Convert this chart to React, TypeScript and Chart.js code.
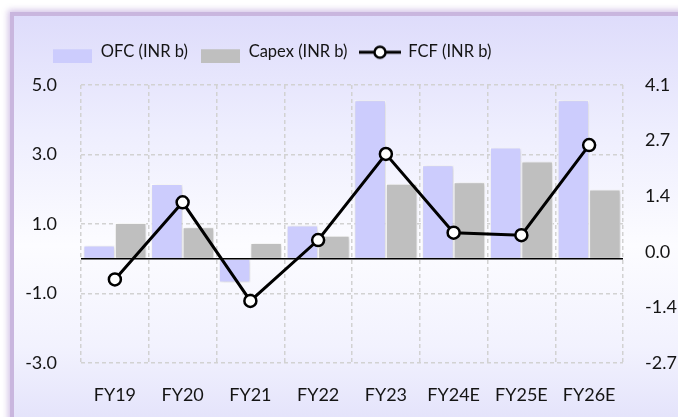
import React, { useEffect, useRef } from "react";
import { Chart, registerables } from "chart.js";

Chart.register(...registerables);

const categories = ["FY19", "FY20", "FY21", "FY22", "FY23", "FY24E", "FY25E", "FY26E"];
const ofcValues = [0.38, 2.15, -0.68, 0.96, 4.56, 2.69, 3.2, 4.56];
const capexValues = [1.03, 0.91, 0.45, 0.66, 2.16, 2.2, 2.8, 1.99];
const fcfValues = [-0.68, 1.22, -1.21, 0.29, 2.41, 0.47, 0.41, 2.63];
const leftTicks = [-3, -1, 1, 3, 5];
const rightTicks = [-2.74, -1.37, 0, 1.37, 2.74, 4.11];
const seriesNames = ["OFC (INR b)", "Capex (INR b)", "FCF (INR b)"];

const OFC_COLOR = "#ccccfd";
const CAPEX_COLOR = "#bfbfbf";
const FONT = "Lato, 'Liberation Sans', sans-serif";
const TEXT_COLOR = "#141414";

const CW = 812;
const CH = 417;
const CLEFT = -134;

function boxImage(color: string) {
  const c = document.createElement("canvas");
  c.width = 39;
  c.height = 24;
  const ctx = c.getContext("2d")!;
  ctx.fillStyle = color;
  ctx.fillRect(0, 10, 39, 14);
  return c;
}

function lineImage() {
  const c = document.createElement("canvas");
  c.width = 42;
  c.height = 20;
  const ctx = c.getContext("2d")!;
  ctx.strokeStyle = "#000";
  ctx.lineWidth = 3;
  ctx.beginPath();
  ctx.moveTo(0, 11);
  ctx.lineTo(42, 11);
  ctx.stroke();
  ctx.beginPath();
  ctx.arc(21, 11, 5.5, 0, Math.PI * 2);
  ctx.fillStyle = "#fff";
  ctx.fill();
  ctx.lineWidth = 2.5;
  ctx.stroke();
  return c;
}

const customPlugin = {
  id: "custom",
  beforeDatasetDraw(chart: any, args: any) {
    const ctx = chart.ctx;
    if (args.index === 0 || args.index === 1) {
      ctx.save();
      ctx.shadowColor = "rgba(0,0,0,0.18)";
      ctx.shadowBlur = 4;
      ctx.shadowOffsetX = 1;
      ctx.shadowOffsetY = 1;
    }
    if (args.index === 2) {
      const y = chart.scales.y.getPixelForValue(0);
      const { left, right } = chart.chartArea;
      ctx.save();
      ctx.strokeStyle = "#000";
      ctx.lineWidth = 1.6;
      ctx.beginPath();
      ctx.moveTo(left, y);
      ctx.lineTo(right, y);
      ctx.stroke();
      ctx.restore();
    }
  },
  afterDatasetDraw(chart: any, args: any) {
    if (args.index === 0 || args.index === 1) {
      chart.ctx.restore();
    }
  },
};

export default function App() {
  const ref = useRef<HTMLCanvasElement | null>(null);

  useEffect(() => {
    if (!ref.current) return;
    const images = [boxImage(OFC_COLOR), boxImage(CAPEX_COLOR), lineImage()];
    const chart = new Chart(ref.current, {
      type: "bar",
      data: {
        labels: categories,
        datasets: [
          {
            type: "bar",
            label: seriesNames[0],
            data: ofcValues,
            backgroundColor: OFC_COLOR,
            borderColor: "#ffffff",
            borderWidth: 1,
            borderSkipped: false,
            yAxisID: "y",
            categoryPercentage: 0.93,
            barPercentage: 1.0,
            order: 1,
          },
          {
            type: "bar",
            label: seriesNames[1],
            data: capexValues,
            backgroundColor: CAPEX_COLOR,
            borderColor: "#ffffff",
            borderWidth: 1,
            borderSkipped: false,
            yAxisID: "y",
            categoryPercentage: 0.93,
            barPercentage: 1.0,
            order: 1,
          },
          {
            type: "line",
            label: seriesNames[2],
            data: fcfValues,
            borderColor: "#000000",
            borderWidth: 3,
            pointRadius: 6,
            pointBorderWidth: 2.5,
            pointBackgroundColor: "#ffffff",
            pointBorderColor: "#000000",
            tension: 0,
            yAxisID: "y1",
            order: 0,
          },
        ] as any,
      },
      options: {
        responsive: false,
        animation: false,
        layout: { padding: { top: 30.5, left: 0, right: 0, bottom: 0 } },
        plugins: {
          tooltip: { enabled: false },
          legend: {
            display: true,
            position: "top",
            align: "center",
            weight: 3000,
            labels: {
              usePointStyle: true,
              pointStyleWidth: 40,
              padding: 12.5,
              color: TEXT_COLOR,
              font: { family: FONT, size: 16.5 },
              generateLabels: () =>
                seriesNames.map((name, i) => ({
                  text: name,
                  pointStyle: images[i],
                  fillStyle: "transparent",
                  strokeStyle: "transparent",
                  lineWidth: 0,
                  hidden: false,
                  datasetIndex: i,
                  fontColor: TEXT_COLOR,
                })),
            },
          } as any,
          title: {
            display: true,
            text: "",
            font: { size: 1, lineHeight: 1 },
            padding: { top: 14.5, bottom: 0 },
          },
        },
        scales: {
          x: {
            offset: true,
            grid: {
              display: true,
              offset: true,
              color: "#d2d2d2",
              lineWidth: 1.5,
              drawTicks: false,
            },
            border: { display: false, dash: [4, 3] },
            ticks: {
              color: TEXT_COLOR,
              font: { family: FONT, size: 18 },
              padding: 21,
              maxRotation: 0,
              autoSkip: false,
            },
            afterFit: (scale: any) => {
              scale.height = 54;
            },
          },
          y: {
            position: "left",
            min: -3,
            max: 5,
            afterBuildTicks: (scale: any) => {
              scale.ticks = leftTicks.map((v) => ({ value: v }));
            },
            grid: {
              color: "#d2d2d2",
              lineWidth: 1.5,
              drawTicks: false,
            },
            border: { display: false, dash: [4, 3] },
            ticks: {
              color: TEXT_COLOR,
              font: { family: FONT, size: 18 },
              padding: 24,
              callback: (v: any) => Number(v).toFixed(1),
            },
            afterFit: (scale: any) => {
              scale.width = 81 - CLEFT;
            },
          },
          y1: {
            position: "right",
            min: rightTicks[0],
            max: rightTicks[rightTicks.length - 1],
            afterBuildTicks: (scale: any) => {
              scale.ticks = rightTicks.map((v) => ({ value: v }));
            },
            grid: { display: false, drawTicks: false },
            border: { display: false },
            ticks: {
              color: TEXT_COLOR,
              font: { family: FONT, size: 18 },
              padding: 22,
              callback: (v: any) => Number(v).toFixed(1),
            },
            afterFit: (scale: any) => {
              scale.width = CW + CLEFT - 623;
            },
          },
        },
      },
      plugins: [customPlugin],
    });
    return () => chart.destroy();
  }, []);

  return (
    <div
      style={{
        position: "fixed",
        left: 0,
        top: 0,
        width: 678,
        height: 417,
        overflow: "hidden",
        background: "#ffffff",
      }}
    >
      <div
        style={{
          position: "absolute",
          left: 10,
          top: 12,
          width: 720,
          height: 460,
          borderLeft: "4px solid #c9b6de",
          borderTop: "4px solid #c9b6de",
          boxShadow: "0 0 6px 2px rgba(200,180,225,0.8)",
          background:
            "linear-gradient(to bottom, #dedcfb 0%, #eeeefe 25%, #fcfcff 50%, #f2f2fe 72%, #e0dffa 92%, #dedcf8 100%)",
        }}
      />
      <canvas
        ref={ref}
        width={CW}
        height={CH}
        style={{ position: "absolute", left: CLEFT, top: 0, width: CW, height: CH }}
      />
    </div>
  );
}
